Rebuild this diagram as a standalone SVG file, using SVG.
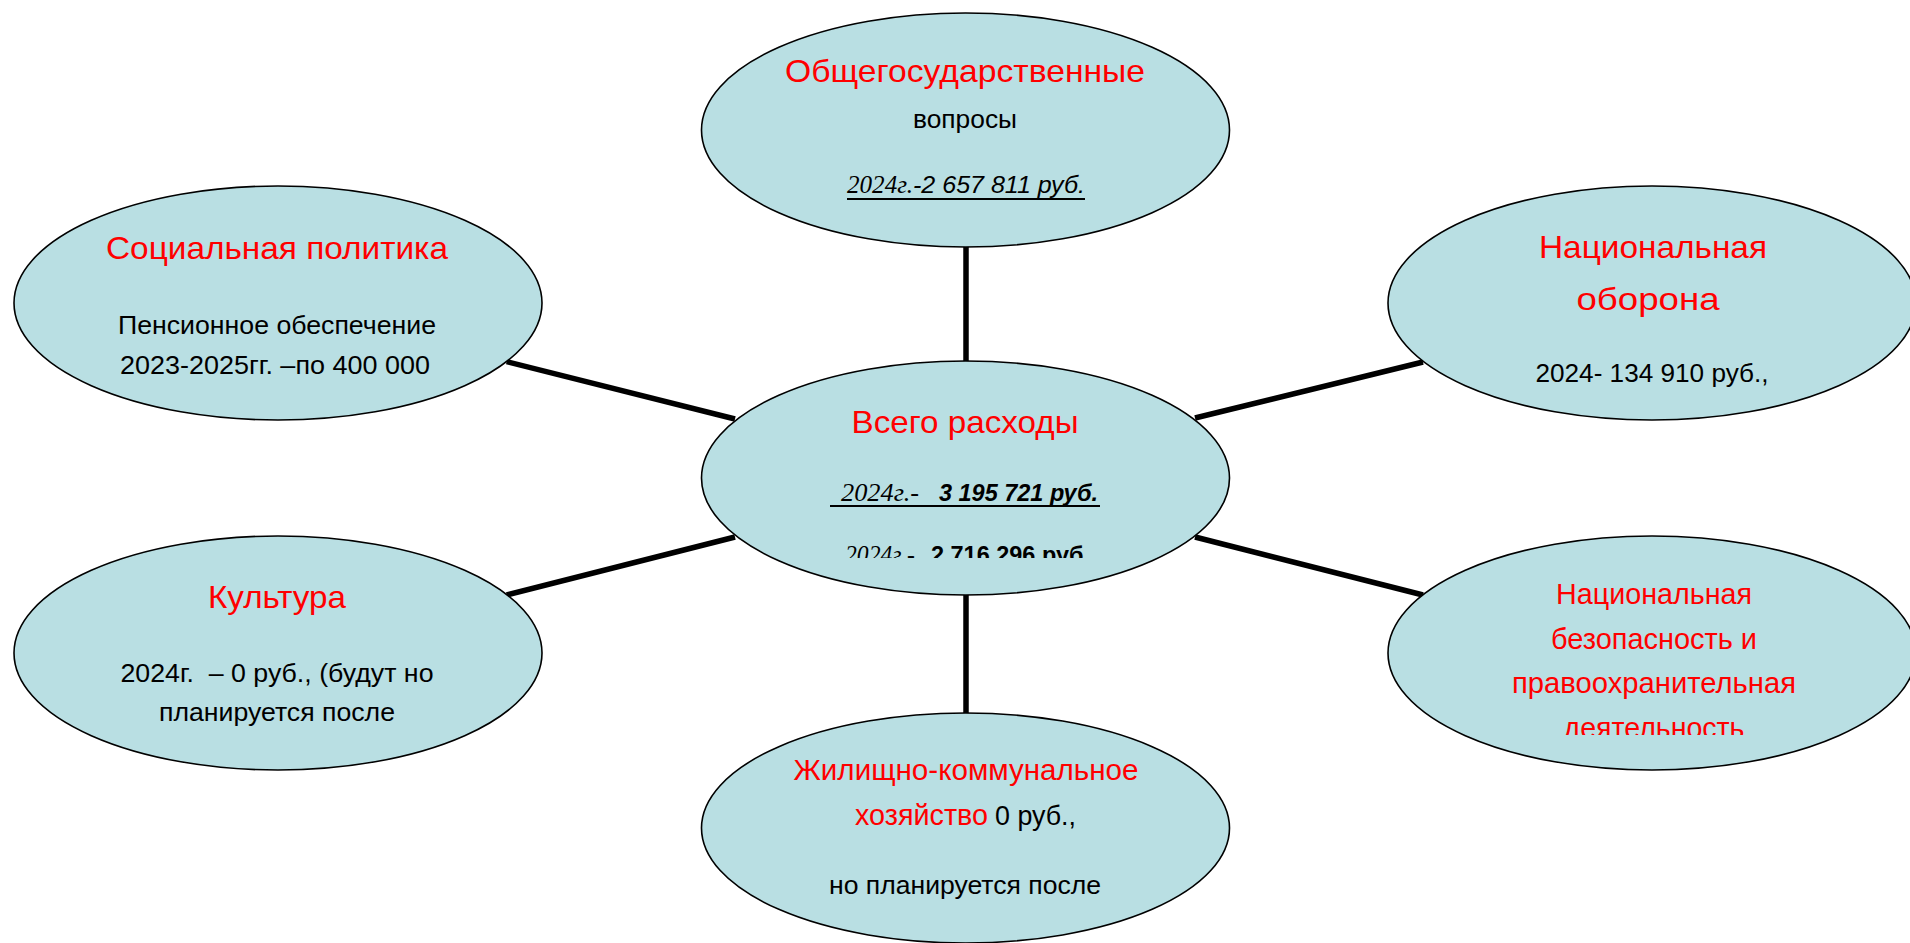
<svg xmlns="http://www.w3.org/2000/svg" width="1910" height="943" viewBox="0 0 1910 943">
<style>
.bg{fill:#ffffff}
.node ellipse{fill:#B9DFE3;stroke:#000;stroke-width:1.6}
.conn line{stroke:#000;stroke-width:5.5}
text{font-family:"Liberation Sans",Arial,sans-serif;fill:#000;white-space:pre}
.t{fill:#FF0000;font-size:32px;text-anchor:middle}
.ts{fill:#FF0000;font-size:29px;text-anchor:middle}
.b{font-size:26px;text-anchor:middle}
.ser{font-family:"Liberation Serif","Times New Roman",serif;font-style:italic;font-size:25px}
.it{font-style:italic;font-size:24px}
.bi{font-style:italic;font-weight:bold;font-size:24px}
.bo{font-weight:bold;font-size:24px}
.ul{stroke:#000;stroke-width:2}
</style>
<defs>
<clipPath id="clipC"><rect x="700" y="520" width="530" height="38"/></clipPath>
<clipPath id="clipRB"><rect x="1390" y="700" width="520" height="35"/></clipPath>
</defs>
<rect class="bg" x="0" y="0" width="1910" height="943"/>
<g id="connectors" class="conn">
<line x1="966" y1="240" x2="966" y2="368"/>
<line x1="966" y1="588" x2="966" y2="720"/>
<line x1="506.7" y1="361.7" x2="735" y2="419"/>
<line x1="506.7" y1="595" x2="735" y2="537"/>
<line x1="1195" y1="418" x2="1423" y2="362"/>
<line x1="1195" y1="537" x2="1423" y2="595"/>
</g>
<g id="node-top" class="node">
<ellipse cx="965.5" cy="130" rx="264" ry="117"/>
<text class="t" x="965" y="82" textLength="360" lengthAdjust="spacingAndGlyphs">Общегосударственные</text>
<text class="b" x="965" y="128" textLength="104" lengthAdjust="spacingAndGlyphs">вопросы</text>
<text class="ser" x="847" y="193" textLength="66" lengthAdjust="spacingAndGlyphs">2024г.</text>
<text class="it" x="913" y="193" textLength="172" lengthAdjust="spacingAndGlyphs">-2 657 811 руб.</text>
<line class="ul" x1="847" y1="199" x2="1085" y2="199"/>
</g>
<g id="node-center" class="node">
<ellipse cx="965.5" cy="478" rx="264" ry="117"/>
<text class="t" x="965" y="433" textLength="227" lengthAdjust="spacingAndGlyphs">Всего расходы</text>
<text class="ser" x="841" y="501" textLength="78" lengthAdjust="spacingAndGlyphs">2024г.-</text>
<text class="bi" x="939" y="501" textLength="159" lengthAdjust="spacingAndGlyphs">3 195 721 руб.</text>
<line class="ul" x1="830" y1="506" x2="1100" y2="506"/>
<g clip-path="url(#clipC)">
<text class="ser" x="845" y="563" textLength="70" lengthAdjust="spacingAndGlyphs">2024г.-</text>
<text class="bo" x="931" y="563" textLength="159" lengthAdjust="spacingAndGlyphs">2 716 296 руб.</text>
</g>
</g>
<g id="node-social" class="node">
<ellipse cx="278" cy="303" rx="264" ry="117"/>
<text class="t" x="277" y="259" textLength="342" lengthAdjust="spacingAndGlyphs">Социальная политика</text>
<text class="b" x="277" y="334" textLength="318" lengthAdjust="spacingAndGlyphs">Пенсионное обеспечение</text>
<text class="b" x="275" y="374" textLength="310" lengthAdjust="spacingAndGlyphs">2023-2025гг. –по 400 000</text>
</g>
<g id="node-defense" class="node">
<ellipse cx="1652" cy="303" rx="264" ry="117"/>
<text class="t" x="1653" y="258" textLength="228" lengthAdjust="spacingAndGlyphs">Национальная</text>
<text class="t" x="1648" y="310" textLength="143" lengthAdjust="spacingAndGlyphs">оборона</text>
<text class="b" x="1652" y="382" textLength="233" lengthAdjust="spacingAndGlyphs">2024- 134 910 руб.,</text>
</g>
<g id="node-culture" class="node">
<ellipse cx="278" cy="653" rx="264" ry="117"/>
<text class="t" x="277" y="608" textLength="138" lengthAdjust="spacingAndGlyphs">Культура</text>
<text class="b" x="277" y="682" textLength="313" lengthAdjust="spacingAndGlyphs">2024г.  – 0 руб., (будут но</text>
<text class="b" x="277" y="721" textLength="236" lengthAdjust="spacingAndGlyphs">планируется после</text>
</g>
<g id="node-security" class="node">
<ellipse cx="1652" cy="653" rx="264" ry="117"/>
<text class="ts" x="1654" y="604" textLength="196" lengthAdjust="spacingAndGlyphs">Национальная</text>
<text class="ts" x="1654" y="649" textLength="206" lengthAdjust="spacingAndGlyphs">безопасность и</text>
<text class="ts" x="1654" y="693" textLength="284" lengthAdjust="spacingAndGlyphs">правоохранительная</text>
<g clip-path="url(#clipRB)">
<text class="ts" x="1654" y="738" textLength="181" lengthAdjust="spacingAndGlyphs">деятельность</text>
</g>
</g>
<g id="node-housing" class="node">
<ellipse cx="965.5" cy="828" rx="264" ry="115"/>
<text class="ts" x="966" y="780" textLength="345" lengthAdjust="spacingAndGlyphs">Жилищно-коммунальное</text>
<text style="fill:#FF0000;font-size:29px" x="855" y="825" textLength="133" lengthAdjust="spacingAndGlyphs">хозяйство</text>
<text style="font-size:27px" x="995" y="825" textLength="81" lengthAdjust="spacingAndGlyphs">0 руб.,</text>
<text class="b" x="965" y="894" textLength="272" lengthAdjust="spacingAndGlyphs">но планируется после</text>
</g>
</svg>
